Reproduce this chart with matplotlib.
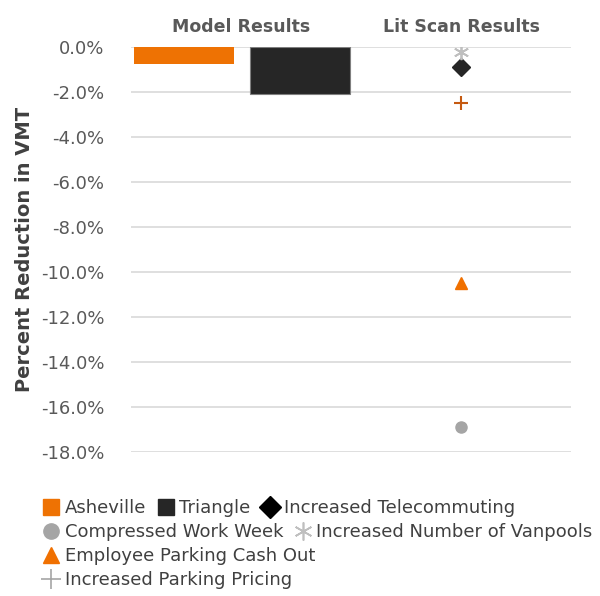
import matplotlib
matplotlib.use("Agg")
import matplotlib.pyplot as plt
from matplotlib.lines import Line2D
from matplotlib.ticker import FuncFormatter

# categories along the top axis
categories = ["Model Results", "Lit Scan Results"]

# model runs (bars, first category)
model_names = ["Asheville", "Triangle"]
model_values = [-0.75, -2.1]
model_colors = ["#EE7203", "#262626"]

# literature scan strategies (markers, second category)
lit_names = ["Increased Telecommuting", "Compressed Work Week",
             "Increased Number of Vanpools", "Employee Parking Cash Out",
             "Increased Parking Pricing"]
lit_values = [-0.9, -16.9, -0.2, -10.5, -2.5]

yticks = [0, -2, -4, -6, -8, -10, -12, -14, -16, -18]

plt.rcParams["font.family"] = ["DejaVu Sans"]
TXT = "#595959"

fig = plt.figure(figsize=(6.0, 5.96), dpi=100)
ax = fig.add_axes([0.218, 0.242, 0.734, 0.679])

# bars sit either side of the first category centre
ax.bar(0 - 0.26, model_values[0], width=0.455, color=model_colors[0], zorder=2)
ax.bar(0 + 0.27, model_values[1], width=0.455, color=model_colors[1],
       edgecolor="#7f7f7f", linewidth=0.8, zorder=2)

lit_styles = [
    dict(marker="D", color="#262626", ms=9),
    dict(marker="o", color="#A5A5A5", ms=8),
    dict(marker=(6, 2, 0), color="#BFBFBF", ms=11, mew=1.3),
    dict(marker="^", color="#F07000", ms=9),
    dict(marker="+", color="#C55A11", ms=10, mew=1.5),
]
for v, st in zip(lit_values, lit_styles):
    ax.plot([1], [v], linestyle="none", zorder=3, **st)

ax.set_xlim(-0.5, 1.5)
ax.set_ylim(-18, 0)
ax.set_yticks(yticks)
ax.yaxis.set_major_formatter(FuncFormatter(lambda v, p: "%.1f%%" % v))
ax.grid(axis="y", color="#D9D9D9", linewidth=1.2, zorder=0)
ax.set_axisbelow(True)
for s in ax.spines.values():
    s.set_visible(False)
ax.tick_params(axis="y", length=0, labelsize=13, labelcolor=TXT, pad=19)

ax.xaxis.tick_top()
ax.set_xticks([0, 1])
ax.set_xticklabels(categories, fontsize=12.5, fontweight="bold", color=TXT)
ax.tick_params(axis="x", length=0, pad=8)

ax.set_ylabel("Percent Reduction in VMT", fontsize=14, fontweight="bold",
              color="#404040", labelpad=5)

# legend rows, laid out like a wrapped legend
def h(**kw):
    return Line2D([], [], linestyle="none", **kw)

rows = [
    ([h(marker="s", color=model_colors[0], ms=12),
      h(marker="s", color=model_colors[1], ms=12),
      h(marker="D", color="#000000", ms=11)],
     [model_names[0], model_names[1], lit_names[0]]),
    ([h(marker="o", color="#A5A5A5", ms=11),
      h(marker=(6, 2, 0), color="#BFBFBF", ms=13, mew=1.2)],
     [lit_names[1], lit_names[2]]),
    ([h(marker="^", color="#F07000", ms=12)], [lit_names[3]]),
    ([h(marker="+", color="#A5A5A5", ms=14, mew=1.2)], [lit_names[4]]),
]
row_y = [508, 532, 556, 580]
for (handles, labels), y in zip(rows, row_y):
    fig.legend(handles, labels, loc="center left",
               bbox_to_anchor=(0.07, 1 - y / 596.0), ncol=len(handles),
               frameon=False, handlelength=1.0, handletextpad=0.25,
               columnspacing=0.6, borderpad=0, borderaxespad=0,
               prop={"size": 13}, labelcolor="#404040")

fig.savefig("out.png", dpi=100)
